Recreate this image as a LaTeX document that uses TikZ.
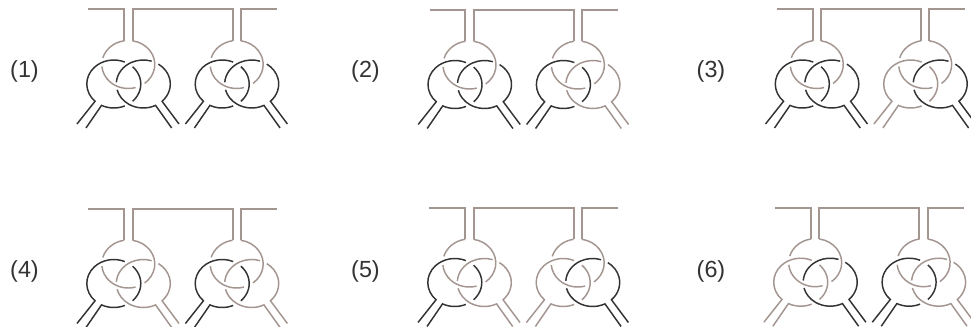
\documentclass[tikz,border=0pt]{standalone}
\usepackage{fontspec}
\setmainfont{Liberation Sans}

\definecolor{ringdark}{HTML}{333333}
\definecolor{ringlight}{HTML}{A39590}

\tikzset{
	strand/.style={line width=1.1pt, line join=miter},
	barline/.style={line width=1.5pt, line join=miter, ringlight},
	number/.style={font=\fontsize{17.5pt}{21pt}\selectfont, text=ringdark, inner sep=0pt}
}

% one knot: #1 = x of the pair of legs, #2 = colour left, #3 = colour right
\newcommand{\knot}[3]{
	\begin{scope}[shift={(#1,0)}]
		% top ring
		\draw[strand, ringlight] (0,-55) ++(81:26.5 and 24) arc[start angle=81, end angle=-52, x radius=26.5, y radius=24];
		\draw[strand, ringlight] (0,-55) ++(-74:26.5 and 24) arc[start angle=-74, end angle=-175, x radius=26.5, y radius=24];
		\draw[strand, ringlight] (0,-55) ++(99:26.5 and 24) arc[start angle=99, end angle=164, x radius=26.5, y radius=24];
		% left ring
		\draw[strand, #2] (-51.3,-114.5) -- ([shift={(-14.5,-74.5)}]226:27 and 24) arc[start angle=226, end angle=66, x radius=27, y radius=24];
		\draw[strand, #2] (-42.3,-118.5) -- ([shift={(-14.5,-74.5)}]243:27 and 24) arc[start angle=243, end angle=294, x radius=27, y radius=24];
		\draw[strand, #2] (-14.5,-74.5) ++(46:27 and 24) arc[start angle=46, end angle=-46, x radius=27, y radius=24];
		% right ring
		\draw[strand, #3] (50.7,-114.5) -- ([shift={(15,-74.5)}]-46:27 and 24) arc[start angle=-46, end angle=56, x radius=27, y radius=24];
		\draw[strand, #3] (43.4,-118.5) -- ([shift={(15,-74.5)}]-63:27 and 24) arc[start angle=-63, end angle=-166, x radius=27, y radius=24];
		\draw[strand, #3] (15,-74.5) ++(176:27 and 24) arc[start angle=176, end angle=72, x radius=27, y radius=24];
	\end{scope}
}

% two knots on their bar
\newcommand{\knotpair}[6]{
	\begin{scope}[shift={(#1,#2)}]
		\draw[barline] (-40,0) -- (-4.2,0) -- (-4.2,-31.3);
		\draw[barline] (4.2,-31.3) -- (4.2,0) -- (104.2,0) -- (104.2,-31.3);
		\draw[barline] (112.6,-31.3) -- (112.6,0) -- (148.4,0);
		\knot{0}{#3}{#4}
		\knot{108.4}{#5}{#6}
	\end{scope}
}

\begin{document}
\begin{tikzpicture}[x=0.75pt, y=0.75pt]

\path[use as bounding box, clip] (0,-327) rectangle (971,0);

\knotpair{128.3}{-9.5}{ringdark}{ringdark}{ringdark}{ringdark}
\knotpair{469.5}{-10}{ringdark}{ringdark}{ringdark}{ringlight}
\knotpair{816.8}{-9.5}{ringdark}{ringdark}{ringlight}{ringdark}
\knotpair{128.3}{-209}{ringdark}{ringlight}{ringdark}{ringlight}
\knotpair{469.3}{-208}{ringdark}{ringlight}{ringlight}{ringdark}
\knotpair{815.2}{-207.7}{ringlight}{ringdark}{ringdark}{ringlight}

\node (n1) [number] at (24.5,-71) {(1)};
\node (n2) [number] at (365.5,-71) {(2)};
\node (n3) [number] at (711,-71) {(3)};
\node (n4) [number] at (24.5,-271) {(4)};
\node (n5) [number] at (365.5,-271) {(5)};
\node (n6) [number] at (711,-271) {(6)};
\end{tikzpicture}
\end{document}
